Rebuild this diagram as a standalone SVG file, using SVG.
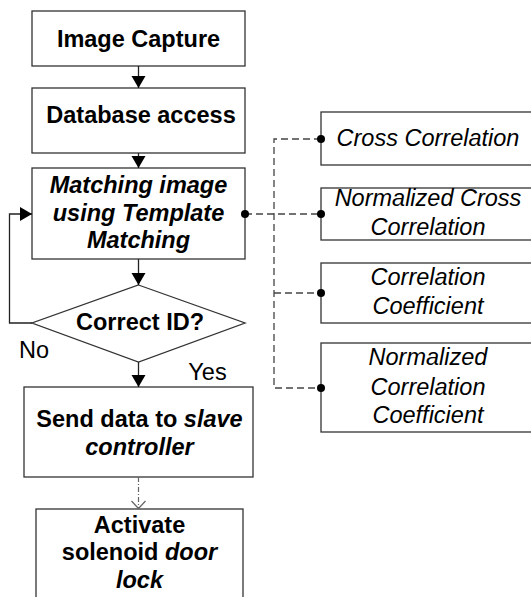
<svg xmlns="http://www.w3.org/2000/svg" width="531" height="597" viewBox="0 0 531 597">
<style>
  .box { fill: #ffffff; stroke: #333333; stroke-width: 1.3; }
  .b { font-family: "Liberation Sans", Arial, sans-serif; font-size: 23.5px; font-weight: bold; fill: #000; text-anchor: middle; }
  .r { font-family: "Liberation Sans", Arial, sans-serif; font-size: 23.5px; fill: #000; text-anchor: middle; }
  .i { font-style: italic; }
  .ln { fill: none; stroke: #222222; stroke-width: 1.3; }
  .dash { fill: none; stroke: #444444; stroke-width: 1.3; stroke-dasharray: 7,4; }
  .dd { fill: none; stroke: #666666; stroke-width: 1.2; stroke-dasharray: 5,2,1,2; }
  .dot { fill: #000; }
</style>
<defs>
  <marker id="arr" markerUnits="userSpaceOnUse" markerWidth="13" markerHeight="15" refX="12" refY="7" orient="auto">
    <path d="M0,0 L12,7 L0,14 z" fill="#000"/>
  </marker>
</defs>
<g id="image-capture">
  <rect class="box" x="32" y="11" width="213" height="55"/>
  <text class="b" x="138.5" y="47">Image Capture</text>
</g>
<g id="database-access">
  <rect class="box" x="32" y="88" width="213" height="65"/>
  <text class="b" x="141" y="123">Database access</text>
</g>
<g id="matching">
  <rect class="box" x="32" y="168" width="213" height="91"/>
  <text class="b i" x="138.5" y="193">Matching image</text>
  <text class="b i" x="138.5" y="221">using Template</text>
  <text class="b i" x="138.5" y="248">Matching</text>
</g>
<g id="correct-id">
  <polygon class="box" points="138.5,285 245,323 138.5,362 32,323"/>
  <text class="b" x="140" y="330">Correct ID?</text>
</g>
<g id="send-data">
  <rect class="box" x="24" y="387" width="229" height="90"/>
  <text class="b" x="139.5" y="427">Send data to <tspan class="i">slave</tspan></text>
  <text class="b i" x="139.5" y="455">controller</text>
</g>
<g id="activate">
  <rect class="box" x="36" y="509" width="207" height="100"/>
  <text class="b" x="139.5" y="533">Activate</text>
  <text class="b" x="139.5" y="560">solenoid <tspan class="i">door</tspan></text>
  <text class="b i" x="139.5" y="588">lock</text>
</g>
<g id="cross-correlation">
  <rect class="box" x="321" y="112" width="214" height="53"/>
  <text class="r i" x="428" y="146">Cross Correlation</text>
</g>
<g id="normalized-cross-correlation">
  <rect class="box" x="321" y="188" width="214" height="52"/>
  <text class="r i" x="428" y="206">Normalized Cross</text>
  <text class="r i" x="428" y="235">Correlation</text>
</g>
<g id="correlation-coefficient">
  <rect class="box" x="321" y="263" width="214" height="60"/>
  <text class="r i" x="428" y="285">Correlation</text>
  <text class="r i" x="428" y="314">Coefficient</text>
</g>
<g id="normalized-correlation-coefficient">
  <rect class="box" x="321" y="343" width="214" height="89"/>
  <text class="r i" x="428" y="365">Normalized</text>
  <text class="r i" x="428" y="395">Correlation</text>
  <text class="r i" x="428" y="423">Coefficient</text>
</g>
<g id="connectors">
  <line class="ln" x1="138.5" y1="66" x2="138.5" y2="88" marker-end="url(#arr)"/>
  <line class="ln" x1="138.5" y1="153" x2="138.5" y2="168" marker-end="url(#arr)"/>
  <line class="ln" x1="138.5" y1="259" x2="138.5" y2="285" marker-end="url(#arr)"/>
  <line class="ln" x1="138.5" y1="362" x2="138.5" y2="387" marker-end="url(#arr)"/>
  <polyline class="ln" points="32,323 9.5,323 9.5,214 32,214" marker-end="url(#arr)"/>
  <line class="dd" x1="138.5" y1="477" x2="138.5" y2="508"/>
  <polyline fill="none" stroke="#666666" stroke-width="1.2" points="131.5,501 138.5,508.5 145.5,501"/>
  <polyline class="dash" points="245,214 321,214"/>
  <polyline class="dash" points="321,139 274,139 274,388 321,388"/>
  <polyline class="dash" points="274,293 321,293"/>
  <circle class="dot" cx="245" cy="214" r="4"/>
  <circle class="dot" cx="321" cy="139" r="4"/>
  <circle class="dot" cx="321" cy="214" r="4"/>
  <circle class="dot" cx="321" cy="293" r="4"/>
  <circle class="dot" cx="321" cy="388" r="4"/>
  <text class="r" x="34" y="358">No</text>
  <text class="r" x="207.5" y="380">Yes</text>
</g>
</svg>
